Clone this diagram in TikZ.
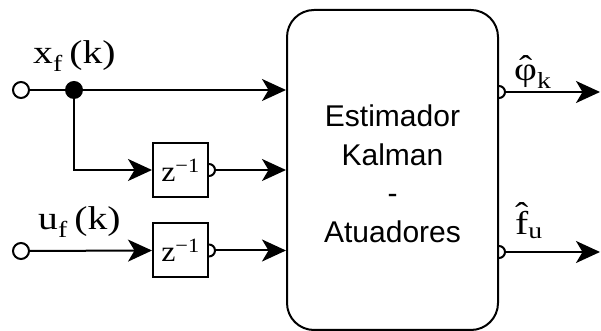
\documentclass[tikz,border=0pt]{standalone}
\usepackage{fontspec}
\setmainfont{Liberation Serif}
\newfontfamily\arialf{Liberation Sans}
\usetikzlibrary{arrows.meta,calc}
\newcommand\hatted[2]{\leavevmode\vbox{\offinterlineskip\halign{\hfil##\hfil\cr ˆ\cr\noalign{\kern#2}#1\cr}}}
\newcommand\wideserif[1]{\scalebox{1.2}[1]{#1}}
\tikzset{
  wire/.style={line width=2pt},
  arr/.style={wire,-{Stealth[length=24pt,width=22pt,inset=6.5pt]}},
  openpt/.style={circle,draw,line width=2pt,fill=white,minimum size=16pt,inner sep=0pt},
  dotpt/.style={circle,fill=black,minimum size=18pt,inner sep=0pt},
  delay/.style={draw,line width=2pt,minimum width=55pt,minimum height=54pt,inner sep=0pt,font=\fontsize{29}{30}\selectfont},
  lbl/.style={inner sep=0pt,anchor=base west,font=\fontsize{33}{35}\selectfont},
  port/.style={wire},
  bigbox/.style={draw,line width=2pt,rounded corners=27pt,minimum width=211pt,minimum height=320pt,inner sep=0pt},
  boxtext/.style={align=center,inner sep=0pt,font=\arialf\fontsize{30}{38.5}\selectfont}
}
\begin{document}
\begin{tikzpicture}[x=1pt,y=1pt]
\useasboundingbox (0,0) rectangle (601,331);
\node[bigbox] (K) at (392.5,161) {};
\node[boxtext] (T) at (392.5,157) {Estimador\\Kalman\\-\\Atuadores};
\node[delay] (Z1) at (180.5,161) {\scalebox{1.1}[1]{z\textsuperscript{−1}}};
\node[delay] (Z2) at (180.5,80.5) {\scalebox{1.1}[1]{z\textsuperscript{−1}}};
\node[openpt] (in1) at (21,241) {};
\node[openpt] (in2) at (21,80) {};
\node[dotpt] (d) at (74,241) {};
% wires
\draw[wire] (in1) -- (d);
\draw[arr] (d) -- (d -| K.west);
\draw[arr] (d.center) |- (Z1.west);
\draw[arr] (in2) -- (Z2.west);
% delay output ports
\draw[port] ($(Z1.east)+(0,6)$) arc[start angle=90,end angle=-90,radius=6pt];
\draw[port] ($(Z2.east)+(0,6)$) arc[start angle=90,end angle=-90,radius=6pt];
\coordinate (p1) at ($(Z1.east)+(6,0)$);
\coordinate (p2) at ($(Z2.east)+(6,0)$);
\draw[arr] (p1) -- (p1 -| K.west);
\draw[arr] (p2) -- (p2 -| K.west);
% outputs
\coordinate (o1) at (K.east |- 0,239);
\coordinate (o2) at (K.east |- 0,79);
\draw[port] ($(o1)+(0,6)$) arc[start angle=90,end angle=-90,radius=6pt];
\draw[port] ($(o2)+(0,6)$) arc[start angle=90,end angle=-90,radius=6pt];
\coordinate (q1) at ($(o1)+(6,0)$);
\coordinate (q2) at ($(o2)+(6,0)$);
\coordinate (e1) at (600,239);
\coordinate (e2) at (600,79);
\draw[arr] (q1) -- (e1);
\draw[arr] (q2) -- (e2);
% labels
\node[lbl] (lx) at (33,267) {\wideserif{x\textsubscript{f}\,(k)}};
\node[lbl] (lu) at (38,101) {\wideserif{u\textsubscript{f}\,(k)}};
\node[lbl] (lphi) at (514,250) {\wideserif{\hatted{φ}{-13pt}\textsubscript{k}}};
\node[lbl] (lf) at (515,96) {\wideserif{\hatted{f}{-14pt}\textsubscript{u}}};
\end{tikzpicture}
\end{document}
